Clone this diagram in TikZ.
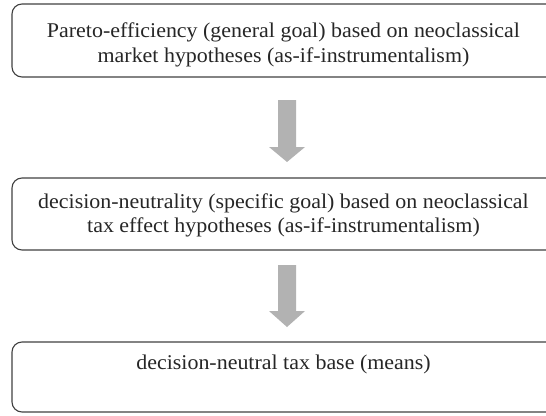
\documentclass[tikz,border=0pt]{standalone}
\usepackage{fontspec}
\setmainfont{Liberation Serif}
\begin{document}
\begin{tikzpicture}[x=1pt,y=-1pt,
  box/.style={draw=black!75, line width=1.1pt, rounded corners=10pt, minimum width=544pt, inner sep=0pt},
  txt/.style={align=center, font=\fontsize{21}{24.3}\selectfont, text=black!85, xscale=1.045},
  blockarrow/.style={fill=black!30, draw=none}]
\useasboundingbox (0,0) rectangle (546,415);
\node[box, minimum height=73pt] (b1) at (284,40.5) {};
\node[txt] (t1) at (283.5,45) {Pareto-efficiency (general goal) based on neoclassical\\market hypotheses (as-if-instrumentalism)};
\node[box, minimum height=72pt] (b2) at (284,214) {};
\node[txt] (t2) at (283.5,215.5) {decision-neutrality (specific goal) based on neoclassical\\tax effect hypotheses (as-if-instrumentalism)};
\node[box, minimum height=70pt] (b3) at (284,377) {};
\node[txt] (t3) at (283.5,364) {decision-neutral tax base (means)};
\fill[blockarrow] (278,100) -- (296,100) -- (296,147) -- (305,147) -- (287,162) -- (269,147) -- (278,147) -- cycle;
\fill[blockarrow] (278,265) -- (296,265) -- (296,311) -- (305,311) -- (287,327) -- (269,311) -- (278,311) -- cycle;
\end{tikzpicture}
\end{document}
